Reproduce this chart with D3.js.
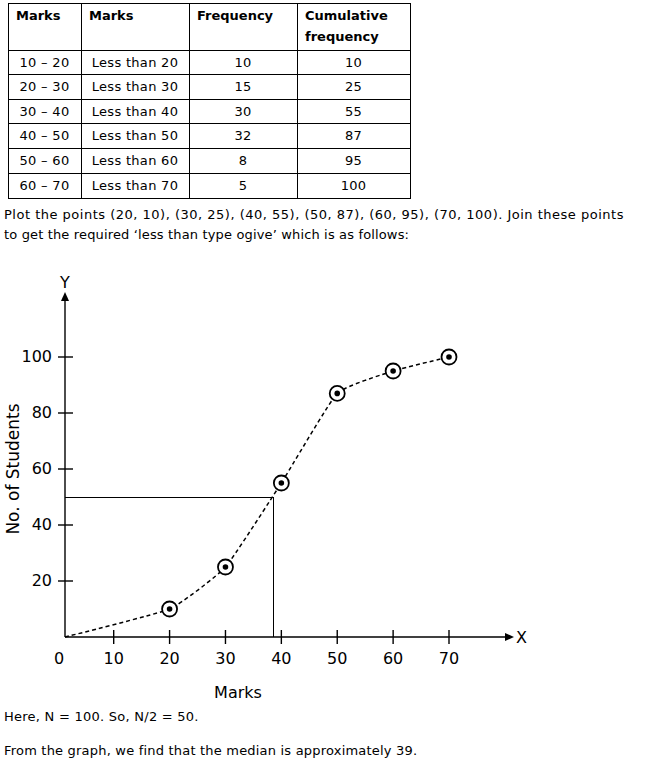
<!DOCTYPE html>
<html><head><meta charset="utf-8">
<script src="https://cdn.jsdelivr.net/npm/d3@7"></script>
<style>body{margin:0;background:#fff}svg{display:block}</style>
</head><body>
<script>
// ---- data ----
const headers = [["Marks"],["Marks"],["Frequency"],["Cumulative","frequency"]];
const classes = ["10 - 20","20 - 30","30 - 40","40 - 50","50 - 60","60 - 70"];
const lessThan = [20,30,40,50,60,70];
const frequency = [10,15,30,32,8,5];
const cumulative = [10,25,55,87,95,100];
const xTicks = [0,10,20,30,40,50,60,70];
const yTicks = [20,40,60,80,100];
const medianY = 50;
const medianX = 38.5;
const textLines1 = ["Plot the points (20, 10), (30, 25), (40, 55), (50, 87), (60, 95), (70, 100). Join these points",
                    "to get the required \u2018less than type ogive\u2019 which is as follows:"];
const textLines2 = ["Here, N = 100. So, N/2 = 50.", "From the graph, we find that the median is approximately 39."];

const W=645,H=768;
const svg=d3.select("body").append("svg").attr("width",W).attr("height",H);
svg.append("rect").attr("width",W).attr("height",H).attr("fill","#fff");
const bodyFont="'DejaVu Sans', Verdana, sans-serif";

// ---- table ----
const colX=[8,81,189,297,410];
const rowY=[3,50,74,99,123,148,173,198];
const tbl=svg.append("g").attr("shape-rendering","crispEdges");
tbl.append("rect").attr("x",colX[0]+0.5).attr("y",rowY[0]+0.5).attr("width",colX[4]-colX[0]).attr("height",rowY[7]-rowY[0]).attr("fill","none").attr("stroke","#000");
colX.slice(1,4).forEach(x=>tbl.append("line").attr("x1",x+0.5).attr("x2",x+0.5).attr("y1",rowY[0]).attr("y2",rowY[7]).attr("stroke","#000"));
rowY.slice(1,7).forEach(y=>tbl.append("line").attr("x1",colX[0]).attr("x2",colX[4]).attr("y1",y+0.5).attr("y2",y+0.5).attr("stroke","#000"));
headers.forEach((h,i)=>{
  h.forEach((t,j)=>tbl.append("text").attr("x",colX[i]+8).attr("y",rowY[0]+17+j*21)
    .attr("font-family",bodyFont).attr("font-size",13).attr("font-weight","bold").text(t));
});
const rows=classes.map((c,i)=>[c.replace("-","\u2013"),"Less than "+lessThan[i],String(frequency[i]),String(cumulative[i])]);
rows.forEach((r,i)=>{
  r.forEach((t,j)=>tbl.append("text").attr("x",(colX[j]+colX[j+1])/2).attr("y",rowY[i+1]+17)
    .attr("text-anchor","middle").attr("font-family",bodyFont).attr("font-size",13).attr("letter-spacing",0.3).text(t));
});

// ---- paragraphs ----
const para=(t,yy,ls)=>svg.append("text").attr("x",4).attr("y",yy).attr("font-family",bodyFont).attr("font-size",13).attr("letter-spacing",ls).text(t);
para(textLines1[0],219,0.5);
para(textLines1[1],239,0.15);
para(textLines2[0],721,0.25);
para(textLines2[1],755,0.2);

// ---- chart ----
const x=d3.scaleLinear().domain([0,10,70]).range([65,113.7,449]);
const y=d3.scaleLinear().domain([0,100]).range([637,357]);
const g=svg.append("g");
const tickFont="'DejaVu Sans', Verdana, sans-serif";

// axes lines
g.append("line").attr("x1",x(0)).attr("x2",508).attr("y1",y(0)).attr("y2",y(0)).attr("stroke","#000").attr("stroke-width",1.4);
g.append("line").attr("x1",x(0)).attr("x2",x(0)).attr("y1",y(0)).attr("y2",299).attr("stroke","#000").attr("stroke-width",1.4);
g.append("path").attr("d",`M${x(0)},292 L${x(0)-4},301 L${x(0)+4},301 Z`).attr("fill","#000");
g.append("path").attr("d",`M514,${y(0)} L505,${y(0)-4} L505,${y(0)+4} Z`).attr("fill","#000");
g.append("text").attr("x",x(0)).attr("y",288).attr("text-anchor","middle").attr("font-family",tickFont).attr("font-size",16).text("Y");
g.append("text").attr("x",516).attr("y",y(0)+6).attr("font-family",tickFont).attr("font-size",16).text("X");

// ticks
xTicks.forEach(v=>{
  if(v>0) g.append("line").attr("x1",x(v)).attr("x2",x(v)).attr("y1",y(0)-7).attr("y2",y(0)+7).attr("stroke","#000").attr("stroke-width",1.4);
  g.append("text").attr("x",v===0?59:x(v)).attr("y",664).attr("text-anchor","middle").attr("font-family",tickFont).attr("font-size",16).text(v);
});
yTicks.forEach(v=>{
  g.append("line").attr("x1",x(0)-7).attr("x2",x(0)+8).attr("y1",y(v)).attr("y2",y(v)).attr("stroke","#000").attr("stroke-width",1.4);
  g.append("text").attr("x",52).attr("y",y(v)+5).attr("text-anchor","end").attr("font-family",tickFont).attr("font-size",16).text(v);
});

// axis titles
g.append("text").attr("x",238).attr("y",698).attr("text-anchor","middle").attr("font-family",tickFont).attr("font-size",16).text("Marks");
g.append("text").attr("transform","translate(19,469) rotate(-90)").attr("text-anchor","middle").attr("font-family",tickFont).attr("font-size",17).text("No. of Students");

// median lines
g.append("path").attr("d",`M${x(0)},${Math.round(y(medianY))+0.5} H${Math.round(x(medianX))+0.5} V${y(0)}`).attr("fill","none").attr("stroke","#000").attr("stroke-width",1.2).attr("shape-rendering","crispEdges");

// ogive
const pts=[[0,0]].concat(lessThan.map((v,i)=>[v,cumulative[i]]));
const line=d3.line().x(d=>x(d[0])).y(d=>y(d[1])).curve(d3.curveCardinal.tension(0.6));
g.append("path").attr("d",line(pts)).attr("fill","none").attr("stroke","#000").attr("stroke-width",1.5).attr("stroke-dasharray","4,3");

const pg=g.selectAll(".pt").data(lessThan.map((v,i)=>[v,cumulative[i]])).enter().append("g");
pg.append("circle").attr("cx",d=>x(d[0])).attr("cy",d=>y(d[1])).attr("r",7.5).attr("fill","#fff").attr("stroke","#000").attr("stroke-width",1.8);
pg.append("circle").attr("cx",d=>x(d[0])).attr("cy",d=>y(d[1])).attr("r",2.8).attr("fill","#000");
</script>
</body></html>
